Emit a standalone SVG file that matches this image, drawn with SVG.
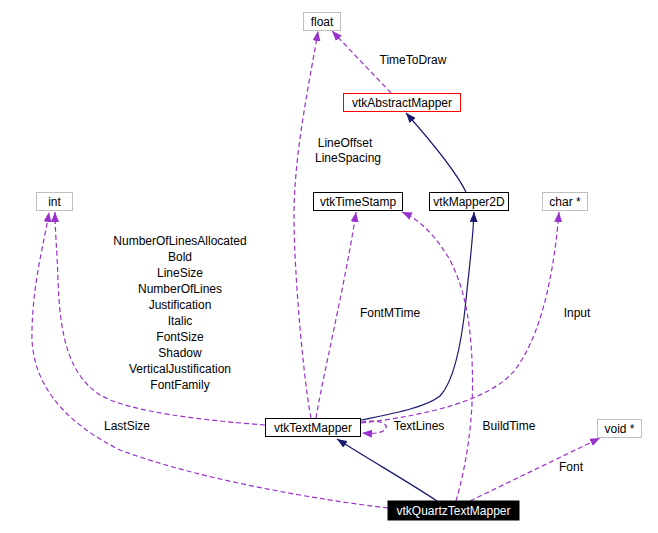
<svg xmlns="http://www.w3.org/2000/svg" width="658" height="533" viewBox="0 0 658 533">
<defs>
<style>
text{font-family:"Liberation Sans",Arial,sans-serif;font-size:12px;fill:#000;text-anchor:middle}
.box{fill:#fff;stroke:#000;stroke-width:1}
.grey{fill:#fff;stroke:#bfbfbf;stroke-width:1}
.red{fill:#fff;stroke:#ff0000;stroke-width:1}
.inh{fill:none;stroke:#191970;stroke-width:1.2}
.use{fill:none;stroke:#9a32cd;stroke-width:1.2;stroke-dasharray:5,3}
</style>
<marker id="ap" viewBox="0 0 10 8" refX="10" refY="4" markerWidth="10" markerHeight="8" markerUnits="userSpaceOnUse" orient="auto"><path d="M0,0 L10,4 L0,8 z" fill="#9a32cd"/></marker>
<marker id="an" viewBox="0 0 10 8" refX="10" refY="4" markerWidth="10" markerHeight="8" markerUnits="userSpaceOnUse" orient="auto"><path d="M0,0 L10,4 L0,8 z" fill="#191970"/></marker>
</defs>
<rect width="658" height="533" fill="#fff"/>
<g id="edges">
<path class="inh" d="M437,501 C410,483 370,460 337,439" marker-end="url(#an)"/>
<path class="inh" d="M361,420 C390,414 425,408 440,396 C455,380 462,340 466,300 C470,260 473,240 474,212" marker-end="url(#an)"/>
<path class="inh" d="M466,192 C455,170 430,140 406,113" marker-end="url(#an)"/>
<path class="use" d="M391,93 L332,31" marker-end="url(#ap)"/>
<path class="use" d="M311,418 C305,390 294,280 294,215 C294,150 312,70 318,31" marker-end="url(#ap)"/>
<path class="use" d="M316,418 C320,390 348,270 356,212" marker-end="url(#ap)"/>
<path class="use" d="M265,425 C200,420 130,412 100,395 C70,375 60,340 58,280 C57,250 55,230 55,212" marker-end="url(#ap)"/>
<path class="use" d="M388,508 C320,500 200,480 120,450 C60,420 30,380 32,330 C33,280 45,240 49,212" marker-end="url(#ap)"/>
<path class="use" d="M361,423 C430,415 490,400 515,370 C545,330 555,260 559,212" marker-end="url(#ap)"/>
<path class="use" d="M361,422 C380,419 388,424 386,428 C384,433 375,434 362,433" marker-end="url(#ap)"/>
<path class="use" d="M456,501 C465,470 475,420 472,360 C470,320 465,290 450,260 C435,235 420,220 402,212" marker-end="url(#ap)"/>
<path class="use" d="M470,501 L600,438" marker-end="url(#ap)"/>
</g>
<g id="labels">
<text x="413" y="64">TimeToDraw</text>
<text x="345" y="147">LineOffset</text>
<text x="348" y="162">LineSpacing</text>
<text x="390" y="317">FontMTime</text>
<text x="577" y="317">Input</text>
<text x="180" y="245">NumberOfLinesAllocated</text>
<text x="180" y="261">Bold</text>
<text x="180" y="277">LineSize</text>
<text x="180" y="293">NumberOfLines</text>
<text x="180" y="309">Justification</text>
<text x="180" y="325">Italic</text>
<text x="180" y="341">FontSize</text>
<text x="180" y="357">Shadow</text>
<text x="180" y="373">VerticalJustification</text>
<text x="180" y="389">FontFamily</text>
<text x="127" y="430">LastSize</text>
<text x="419" y="430">TextLines</text>
<text x="509" y="430">BuildTime</text>
<text x="571" y="471">Font</text>
</g>
<g id="float"><rect class="grey" x="303.5" y="12.5" width="37" height="18"/><text x="322" y="26">float</text></g>
<g id="vtkAbstractMapper"><rect class="red" x="343.5" y="93.5" width="117" height="18"/><text x="402" y="107">vtkAbstractMapper</text></g>
<g id="vtkTimeStamp"><rect class="box" x="313.5" y="192.5" width="89" height="18"/><text x="358" y="206">vtkTimeStamp</text></g>
<g id="vtkMapper2D"><rect class="box" x="429.5" y="192.5" width="79" height="18"/><text x="469" y="206">vtkMapper2D</text></g>
<g id="int"><rect class="grey" x="36.5" y="192.5" width="36" height="18"/><text x="54.5" y="206">int</text></g>
<g id="char"><rect class="grey" x="542.5" y="192.5" width="45" height="18"/><text x="565" y="206">char *</text></g>
<g id="vtkTextMapper"><rect class="box" x="265.5" y="418.5" width="95" height="18"/><text x="313" y="432">vtkTextMapper</text></g>
<g id="void"><rect class="grey" x="597.5" y="419.5" width="44" height="18"/><text x="619.5" y="433">void *</text></g>
<g id="vtkQuartzTextMapper"><rect x="388" y="501" width="131" height="19" fill="#000" stroke="#000"/><text x="453.5" y="515" style="fill:#fff">vtkQuartzTextMapper</text></g>
</svg>
